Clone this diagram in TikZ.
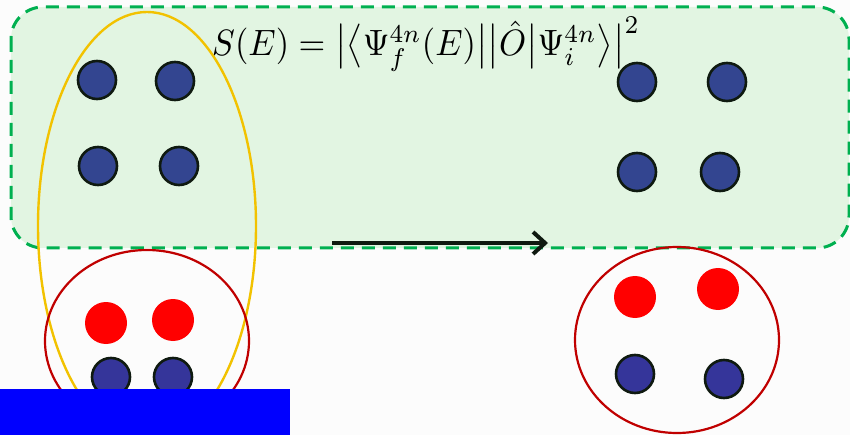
\documentclass[tikz,border=0pt]{standalone}
\usepackage{graphicx}
\usepackage{amsmath}
\usetikzlibrary{arrows.meta}
\definecolor{boxfill}{HTML}{E2F5E2}
\definecolor{boxline}{HTML}{00B050}
\definecolor{ellyel}{HTML}{F2C200}
\definecolor{nucred}{HTML}{C00000}
\definecolor{neutA}{HTML}{334590}
\definecolor{neutB}{HTML}{35359A}
\definecolor{outl}{HTML}{0F1A10}
\tikzset{
  neutron/.style={circle, draw=outl, line width=2.6pt, fill=neutA, minimum size=38pt, inner sep=0pt},
  neutronb/.style={neutron, fill=neutB},
  proton/.style={circle, fill=red, minimum size=42pt, inner sep=0pt},
  regionbox/.style={draw=boxline, fill=boxfill, line width=3pt, dash pattern=on 13pt off 8pt, rounded corners=32pt},
  nucleus/.style={draw=nucred, line width=2.2pt},
  cluster/.style={draw=ellyel, line width=2.4pt},
}
\begin{document}
\begin{tikzpicture}[x=1pt,y=-1pt]
\useasboundingbox (0,0) rectangle (850,435);
\fill[white!99!black] (0,0) rectangle (850,435);
% green dashed region
\path[regionbox] (11,7) rectangle (849,248);
% formula
\node[anchor=center, inner sep=0pt] (formula) at (426,44)
  {\resizebox*{428pt}{54pt}{$S(E)=\bigl|\bigl\langle\Psi_f^{4n}(E)\bigr|\bigl|\hat{O}\bigr|\Psi_i^{4n}\bigr\rangle\bigr|^2$}};
% yellow ellipse
\draw[cluster] (147,226) ellipse [x radius=109, y radius=214];
% red nuclei
\draw[nucleus] (147,341) ellipse [x radius=102, y radius=91];
\draw[nucleus] (677,340) ellipse [x radius=102, y radius=93];
% left neutrons (top)
\node[neutron] (l1) at (97,80) {};
\node[neutron] (l2) at (175,81) {};
\node[neutron] (l3) at (98,166) {};
\node[neutron] (l4) at (179,166) {};
% right neutrons (top)
\node[neutron] (r1) at (637,82) {};
\node[neutron] (r2) at (727,82) {};
\node[neutron] (r3) at (637,172) {};
\node[neutron] (r4) at (720,172) {};
% left nucleus
\node[proton] (lp1) at (106,323) {};
\node[proton] (lp2) at (173,320) {};
\node[neutronb] (ln1) at (111,377) {};
\node[neutronb] (ln2) at (173,377) {};
% right nucleus
\node[proton] (rp1) at (635,297) {};
\node[proton] (rp2) at (718,289) {};
\node[neutronb] (rn1) at (635,374) {};
\node[neutronb] (rn2) at (724,379) {};
% arrow
\coordinate (as) at (332,243);
\coordinate (ae) at (548,243);
\draw[line width=4pt, color=outl, -{Straight Barb[length=12pt,width=22pt,line width=4pt]}] (as) -- (ae);
% blue bar
\fill[blue] (0,389) rectangle (290,435);
\end{tikzpicture}
\end{document}
